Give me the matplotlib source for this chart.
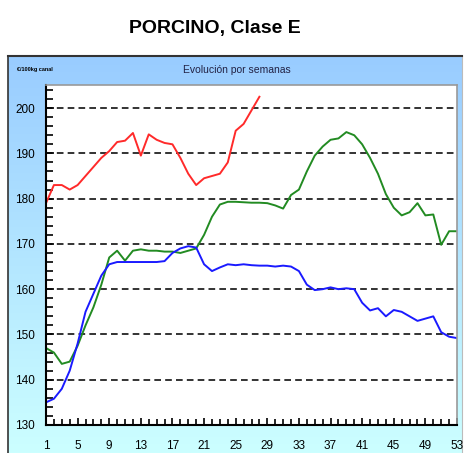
import numpy as np
import matplotlib
matplotlib.use("Agg")
import matplotlib.pyplot as plt
from matplotlib.ticker import MultipleLocator, FixedLocator
from matplotlib.colors import LinearSegmentedColormap

plt.rcParams['font.family'] = ['Liberation Sans', 'DejaVu Sans']

weeks_red = list(range(1, 29))
red = [179, 183, 183, 182, 183, 185, 187, 189, 190.5, 192.5, 192.8, 194.5, 189.5, 194.2,
       193, 192.3, 192, 189, 185.5, 183, 184.5, 185, 185.5, 188, 195, 196.5, 199.5, 202.5]

weeks = list(range(1, 54))
green = [147, 146, 143.5, 144, 147.5, 152, 156, 161, 167, 168.5, 166.3, 168.5, 168.8, 168.5,
         168.5, 168.3, 168.3, 168, 168.5, 169, 172, 176, 178.7, 179.3, 179.3, 179.2, 179.1,
         179.1, 179, 178.5, 177.8, 180.8, 182, 186, 189.5, 191.5, 193, 193.3, 194.7, 194,
         192, 189, 185.5, 181, 178, 176.3, 177, 179, 176.3, 176.5, 169.8, 172.8, 172.8]
blue = [135, 135.8, 138, 142, 148, 155, 159, 163, 165.5, 166, 166, 166, 166, 166, 166, 166.2,
        168, 169, 169.5, 169.2, 165.5, 164, 164.8, 165.5, 165.3, 165.5, 165.3, 165.2, 165.2,
        165, 165.2, 165, 164, 161, 159.8, 160, 160.4, 160, 160.2, 160, 157, 155.3, 155.8,
        154, 155.4, 155, 154, 153, 153.5, 154, 150.5, 149.5, 149.2]

yticks = [130, 140, 150, 160, 170, 180, 190, 200]
xticks = list(range(1, 54, 4))

title = "PORCINO, Clase E"
subtitle = "Evolución por semanas"
unit = "€/100kg canal"

W, H = 465, 453
fig = plt.figure(figsize=(W / 100, H / 100), dpi=100)
fig.patch.set_facecolor("white")

# panel background gradient
bg = fig.add_axes([8 / W, 0, (462 - 8) / W, 1 - 56 / H])
grad = np.linspace(0, 1, 256).reshape(-1, 1)
cmap = LinearSegmentedColormap.from_list("bg", ["#99CCFF", "#CCFFFF"])
bg.imshow(grad, aspect="auto", cmap=cmap, extent=[0, 1, 0, 1], origin="upper")
bg.set_xlim(0, 1)
bg.set_ylim(0, 1)
bg.set_xticks([])
bg.set_yticks([])
bg.spines["bottom"].set_visible(False)
bg.spines["top"].set_color("#333333")
bg.spines["top"].set_linewidth(1.5)
bg.spines["left"].set_color("#333333")
bg.spines["left"].set_linewidth(1.2)
bg.spines["right"].set_color("#bbbbbb")

fig.text(215 / W, 1 - 28 / H, title, ha="center", va="center", fontsize=14, fontweight="bold")
fig.text(35 / W, 1 - 70 / H, unit, ha="center", va="center", fontsize=4, fontweight="bold")
fig.text(237 / W, 1 - 70 / H, subtitle, ha="center", va="center", fontsize=7.5, color="#222244")

ax = fig.add_axes([46 / W, 1 - 425 / H, (457 - 46) / W, (425 - 85) / H])
ax.set_facecolor("white")
ax.plot(weeks_red, red, color="#ff2a2a", lw=1.4)
ax.plot(weeks, green, color="#228b22", lw=1.4)
ax.plot(weeks, blue, color="#1a1aff", lw=1.4)

ax.set_xlim(1, 53)
ax.set_ylim(130, 205.1)
ax.yaxis.set_major_locator(FixedLocator(yticks))
ax.yaxis.set_minor_locator(MultipleLocator(2))
ax.xaxis.set_major_locator(FixedLocator(xticks))
ax.xaxis.set_minor_locator(MultipleLocator(1))
ax.tick_params(axis="both", which="both", direction="in", color="black", width=1.2)
ax.tick_params(axis="y", which="major", length=6, labelsize=8.5, pad=8)
ax.tick_params(axis="y", which="minor", length=5)
ax.tick_params(axis="x", which="major", length=5, labelsize=8.5, pad=11)
ax.tick_params(axis="x", which="minor", length=4)
for v in yticks[1:]:
    ax.axhline(v, color="#111111", lw=1.2, ls=(0, (4, 2.5)), zorder=0.5)
for s in ["left", "bottom"]:
    ax.spines[s].set_color("black")
    ax.spines[s].set_linewidth(1.5)
for s in ["top", "right"]:
    ax.spines[s].set_color("#999999")
    ax.spines[s].set_linewidth(1.2)

fig.savefig("out.png", dpi=100)
